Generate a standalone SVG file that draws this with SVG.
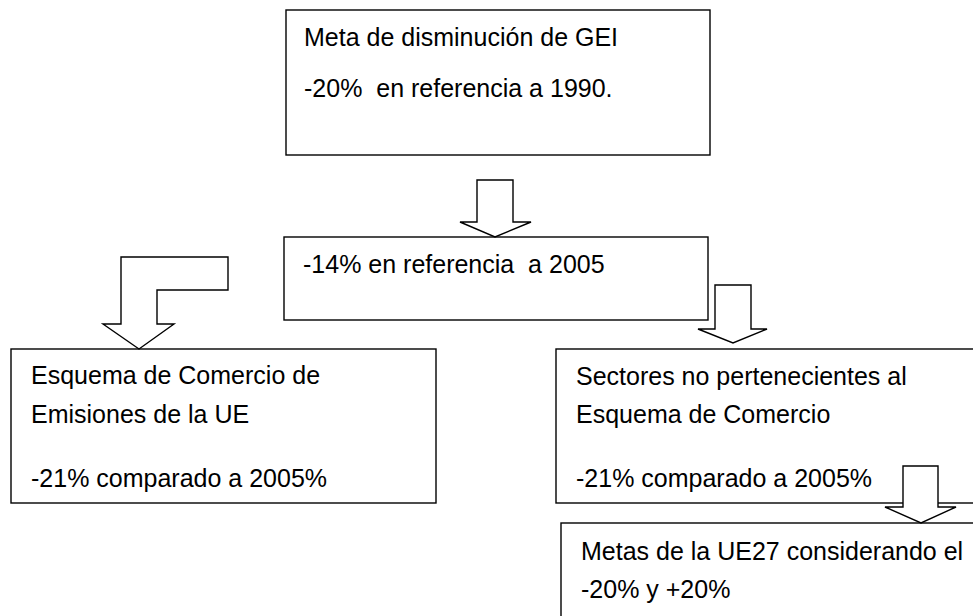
<svg xmlns="http://www.w3.org/2000/svg" width="973" height="616" viewBox="0 0 973 616">
<style>
.box{fill:#fff;stroke:#000;stroke-width:1.4}
.arr{fill:#fff;stroke:#000;stroke-width:1.4;stroke-linejoin:miter}
text{font-family:"Liberation Sans",Arial,sans-serif;font-size:25px;fill:#000;white-space:pre}
</style>
<rect x="0" y="0" width="973" height="616" fill="#fff"/>
<g id="n1">
<rect class="box" x="286" y="10" width="424" height="145"/>
<text x="304" y="46">Meta de disminución de GEI</text>
<text x="304" y="97" xml:space="preserve">-20%  en referencia a 1990.</text>
</g>
<g id="n2">
<rect class="box" x="284" y="237" width="424" height="83"/>
<text x="303" y="273" xml:space="preserve">-14% en referencia  a 2005</text>
</g>
<g id="n3">
<rect class="box" x="11" y="349" width="425" height="154"/>
<text x="31" y="384">Esquema de Comercio de</text>
<text x="31" y="423">Emisiones de la UE</text>
<text x="31" y="487">-21% comparado a 2005%</text>
</g>
<g id="n4">
<rect class="box" x="556" y="349" width="430" height="154"/>
<text x="576" y="385">Sectores no pertenecientes al</text>
<text x="576" y="423">Esquema de Comercio</text>
<text x="576" y="487">-21% comparado a 2005%</text>
</g>
<g id="n5">
<rect class="box" x="561" y="523" width="430" height="110"/>
<text x="581" y="560">Metas de la UE27 considerando el</text>
<text x="581" y="598">-20% y +20%</text>
</g>
<g id="connectors">
<polygon class="arr" points="477,180 513,180 513,222 531,222 495,237 460,222 477,222"/>
<polygon class="arr" points="121,257 228,257 228,290 157,290 157,324 174,324 139,349 103,324 121,324"/>
<polygon class="arr" points="715,285 751,285 751,329 767,329 733,343 698,329 715,329"/>
<polygon class="arr" points="903,466 938,466 938,507 956,507 921,523 885,507 903,507"/>
</g>
</svg>
